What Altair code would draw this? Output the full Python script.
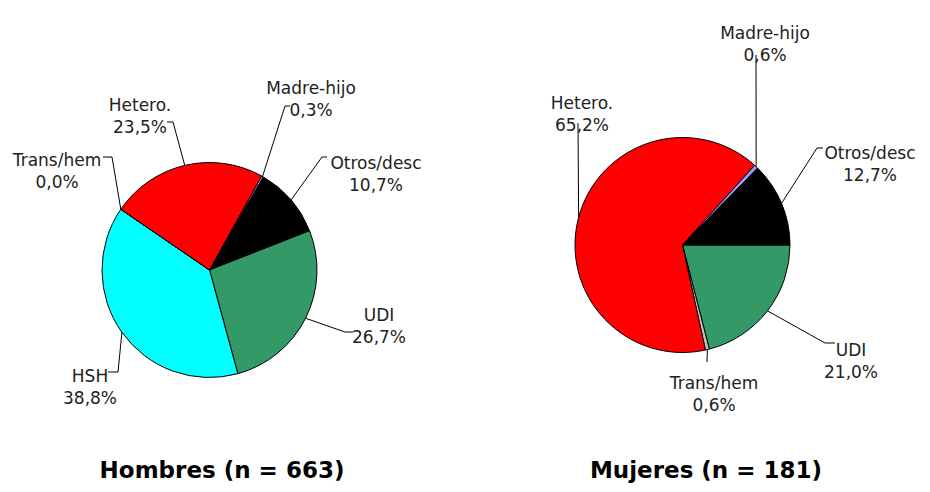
import math
import pandas as pd
import altair as alt

# ---------------- data ----------------
HOMBRES_CATS = ["Madre-hijo", "Otros/desc", "UDI", "HSH", "Trans/hem", "Hetero."]
HOMBRES_VALS = [0.3, 10.7, 26.7, 38.8, 0.0, 23.5]
MUJERES_CATS = ["UDI", "Trans/hem", "Hetero.", "Madre-hijo", "Otros/desc"]
MUJERES_VALS = [21.0, 0.6, 65.2, 0.6, 12.7]
TITLES = ["Hombres (n = 663)", "Mujeres (n = 181)"]

COLOR_CATS = ["Hetero.", "Otros/desc", "UDI", "HSH", "Madre-hijo", "Trans/hem"]
COLOR_VALS = ["#FF0000", "#000000", "#339966", "#00FFFF", "#9999FF", "#C0C0C0"]

# ---------------- layout (page pixel coordinates) ----------------
W, H = 914, 476
PIES = [
    dict(cx=209.5, cy=270.0, r=107.5, start_deg=29.0, title_xy=(222, 471)),
    dict(cx=682.5, cy=245.0, r=107.5, start_deg=90.0, title_xy=(706, 471)),
]
# label: (text x, text y, bend x, bend y, end x, end y)
LABEL_LAYOUT = [
    {
        "Madre-hijo": (311, 88.5, 285, 106, 290, 106),
        "Otros/desc": (376, 164, 322, 157, 327, 157),
        "UDI": (379, 316, 345, 332, 353, 332),
        "HSH": (90, 376.5, 118, 372, 108, 372),
        "Trans/hem": (57, 161, 112, 157, 103, 157),
        "Hetero.": (140, 106, 173, 122, 167, 122),
    },
    {
        "UDI": (851, 351, 825, 343, 835, 343),
        "Trans/hem": (714, 384, 707, 362, 707, 362),
        "Hetero.": (582, 103.5, 578, 123, 578, 123),
        "Madre-hijo": (765, 34, 756, 55, 756, 55),
        "Otros/desc": (870, 154, 817, 148, 823, 148),
    },
]

def fmt(v):
    return f"{v:.1f}".replace(".", ",") + "%"

arc_rows, line_rows, label_rows, title_rows = [], [], [], []
for p, (cats, vals, title, lay) in enumerate(zip(
        [HOMBRES_CATS, MUJERES_CATS], [HOMBRES_VALS, MUJERES_VALS], TITLES, LABEL_LAYOUT)):
    pie = PIES[p]
    total = sum(vals)
    offset = pie["start_deg"] / 360.0 * 100.0
    cum = 0.0
    for c, v in zip(cats, vals):
        t0 = offset + cum / total * 100.0
        cum += v
        t1 = offset + cum / total * 100.0
        arc_rows.append(dict(pie=p, cat=c, cx=pie["cx"], cy=pie["cy"], t0=t0, t1=t1))
        mid = math.radians((t0 + t1) / 2.0 / 100.0 * 360.0)
        ex = pie["cx"] + pie["r"] * math.sin(mid)
        ey = pie["cy"] - pie["r"] * math.cos(mid)
        tx, ty, bx, by, lx, ly = lay[c]
        key = f"{p}-{c}"
        line_rows += [
            dict(key=key, seq=0, x=ex, y=ey),
            dict(key=key, seq=1, x=bx, y=by),
            dict(key=key, seq=2, x=lx, y=ly),
        ]
        label_rows.append(dict(x=tx, y=ty, text=f"{c}\n{fmt(v)}"))
    title_rows.append(dict(x=pie["title_xy"][0], y=pie["title_xy"][1], text=title))

arc_df = pd.DataFrame(arc_rows)
line_df = pd.DataFrame(line_rows)
label_df = pd.DataFrame(label_rows)
title_df = pd.DataFrame(title_rows)

xs = alt.Scale(domain=[8, 8 + W], range=[0, W], nice=False, zero=False)
ys = alt.Scale(domain=[8, 8 + H], range=[0, H], nice=False, zero=False)
ts = alt.Scale(domain=[0, 100], range=[0, 2 * math.pi])
cs = alt.Scale(domain=COLOR_CATS, range=COLOR_VALS)

arcs = alt.Chart(arc_df).mark_arc(radius=107.5, stroke="black", strokeWidth=1).encode(
    x=alt.X("cx:Q", scale=xs, axis=None),
    y=alt.Y("cy:Q", scale=ys, axis=None),
    theta=alt.Theta("t0:Q", scale=ts, stack=None),
    theta2="t1:Q",
    color=alt.Color("cat:N", scale=cs, legend=None),
)

lines = alt.Chart(line_df).mark_line(color="black", strokeWidth=1).encode(
    x=alt.X("x:Q", scale=xs, axis=None),
    y=alt.Y("y:Q", scale=ys, axis=None),
    detail="key:N",
    order="seq:Q",
)

labels = alt.Chart(label_df).mark_text(
    lineBreak="\n", align="center", baseline="middle", lineHeight=22,
    fontSize=17, font="DejaVu Sans", color="#222222",
).encode(
    x=alt.X("x:Q", scale=xs, axis=None),
    y=alt.Y("y:Q", scale=ys, axis=None),
    text="text:N",
)

titles = alt.Chart(title_df).mark_text(
    align="center", baseline="middle", fontSize=23, fontWeight="bold",
    font="DejaVu Sans", color="#000000",
).encode(
    x=alt.X("x:Q", scale=xs, axis=None),
    y=alt.Y("y:Q", scale=ys, axis=None),
    text="text:N",
)

chart = alt.layer(arcs, lines, labels, titles).properties(
    width=W, height=H, autosize="none", padding=0, background="white"
).configure_view(stroke=None)

chart.save("out.html", embed_options={"renderer": "svg", "actions": False})
